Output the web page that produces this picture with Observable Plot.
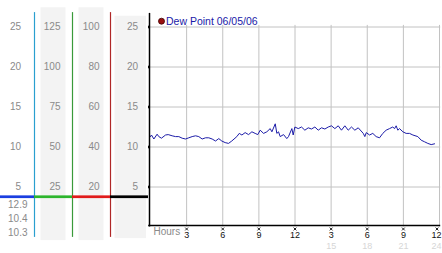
<!DOCTYPE html>
<html><head><meta charset="utf-8">
<script src="https://cdn.jsdelivr.net/npm/d3@7"></script>
<script src="https://cdn.jsdelivr.net/npm/@observablehq/plot@0.6"></script>
<style>
body{margin:0;background:#fff;}
#chart{display:flex;width:442px;height:253px;overflow:hidden;}
#chart svg{display:block;flex:none;}
</style></head><body><div id="chart"></div>
<script>
// ---- data ----
const dewHours = [0.00,0.08,0.28,0.55,0.69,0.91,1.25,1.47,1.80,2.08,2.35,2.63,2.91,3.18,3.46,3.74,4.01,4.29,4.57,4.84,5.12,5.40,5.67,5.92,6.20,6.48,6.75,7.17,7.37,7.59,7.86,8.14,8.42,8.69,8.91,9.11,9.39,9.66,9.94,10.08,10.36,10.49,10.63,10.77,11.05,11.32,11.46,11.74,11.85,11.99,12.27,12.54,12.82,13.10,13.37,13.65,13.93,14.20,14.48,14.76,15.03,15.31,15.59,15.86,16.14,16.42,16.69,16.97,17.25,17.67,17.80,17.92,18.19,18.46,18.74,19.02,19.29,19.57,19.85,20.12,20.27,20.40,20.54,20.68,20.96,21.23,21.51,21.79,22.20,22.48,22.76,23.03,23.31,23.59];
const dewValues = [11.3,11.5,11.0,11.6,11.3,11.1,11.5,11.55,11.4,11.3,11.3,11.1,11.0,11.15,11.3,11.4,11.3,11.0,11.15,11.15,11.0,10.75,11.05,10.75,10.55,10.45,10.75,11.3,11.7,11.5,11.8,11.55,11.9,11.7,11.55,12.1,11.7,11.9,12.3,11.9,12.9,11.7,11.9,11.3,11.55,11.05,11.3,12.3,11.5,12.5,12.3,12.5,12.1,12.4,12.25,12.5,12.1,12.4,12.25,12.5,12.65,12.3,12.65,12.1,12.65,12.1,12.5,12.1,12.4,11.7,11.3,11.8,11.5,11.7,11.3,11.15,11.7,12.1,12.3,12.5,12.3,12.65,12.1,12.3,11.9,11.7,11.7,11.5,11.3,10.85,10.65,10.45,10.3,10.4];
const gridValues = [25, 20, 15, 10, 5];
const col1Labels = ["25", "20", "15", "10", "5"];
const col2Labels = ["125", "100", "75", "50", "25"];
const col3Labels = ["100", "80", "60", "40", "20"];
const col4Labels = ["25", "20", "15", "10", "5"];
const statLabels = ["12.9", "10.4", "10.3"];
const hourTicks = [3, 6, 9, 12, 15, 18, 21, 24];
const hourLabels = ["3", "6", "9", "12", "3", "6", "9", "12"];
const pmTicks = [15, 18, 21, 24];
const pmLabels = ["15", "18", "21", "24"];
const legendLabel = "Dew Point 06/05/06";
const axisTitle = "Hours";

// ---- layout ----
const FONT = "'Liberation Sans', Arial, sans-serif";
const H = 253, MT = 26.5, MB = 26.5;
const yDomain = [0, 25];
const columns = ["c1", "c2", "c3", "c4"];
const colLabelSets = [col1Labels, col2Labels, col3Labels, col4Labels];
const colLabelDx = [5.5, 7, 8, 8.5];
const baseY = 3.72;
const colLineColors = ["#2a9fcf", "#3a9a3a", "#b02828"];
const baseColors = ["#1a3ee0", "#2db52d", "#e01b1b", "#000000"];

const dew = dewHours.map((h, i) => ({hour: h, dew: dewValues[i]}));
const lastIdx = hourTicks.length - 1;
const lastPm = pmTicks.length - 1;

const left = Plot.plot({
  width: 148, height: H,
  marginLeft: 0, marginRight: 0, marginTop: MT, marginBottom: MB,
  x: {type: "band", domain: columns, range: [-4, 148], padding: 0, axis: null},
  y: {domain: yDomain, axis: null},
  color: {type: "identity"},
  style: {fontFamily: FONT, fontSize: "10px", background: "#fff"},
  marks: [
    Plot.barY(["c2", "c3"], {x: d => d, y1: -1.7, y2: 27.4, fill: "#f3f3f3", insetLeft: 6.5, insetRight: 6.5}),
    Plot.barY(["c4"], {x: d => d, y1: -1.45, y2: 26.35, fill: "#f3f3f3", insetLeft: 4.5, insetRight: 2}),
    ...columns.map((c, ci) => Plot.text(gridValues, {
      x: () => c, y: d => d, text: (d, i) => colLabelSets[ci][i],
      textAnchor: "end", dx: colLabelDx[ci], fill: "#8a8a8a", fontSize: 10
    })),
    Plot.ruleX(columns.slice(0, 3), {x: d => d, dx: 19, y1: -1.3, y2: 26.8,
      stroke: (d, i) => colLineColors[i], strokeWidth: 1.2}),
    Plot.barY(columns, {x: d => d, y1: baseY - 0.17, y2: baseY + 0.17,
      fill: (d, i) => baseColors[i]}),
    ...statLabels.map((s, i) => Plot.text([s], {
      x: () => "c1", y: () => baseY, text: d => d, textAnchor: "end",
      dx: 12, dy: 8 + 13.6 * i, fill: "#8a8a8a", fontSize: 10
    }))
  ]
});

const main = Plot.plot({
  width: 294, height: H,
  marginLeft: 2, marginRight: 3, marginTop: MT, marginBottom: MB,
  x: {domain: [0, 24], axis: null},
  y: {domain: yDomain, axis: null},
  style: {fontFamily: FONT, fontSize: "10px", background: "#fff"},
  marks: [
    Plot.ruleY(gridValues, {x1: 0, x2: 24.1, stroke: "#c2c2c2"}),
    Plot.ruleX(hourTicks, {y1: 0, y2: 25.2, stroke: "#c2c2c2"}),
    Plot.line(dew, {x: "hour", y: "dew", stroke: "#1c1ca8", strokeWidth: 1}),
    Plot.ruleX([0], {y1: 0, y2: 26.7, stroke: "#000", strokeWidth: 1.5, dx: -1}),
    Plot.ruleY([0], {x1: -0.15, x2: 24.1, stroke: "#000", strokeWidth: 1.5, dy: -1.5}),
    Plot.dot(gridValues, {x: 0, y: d => d, symbol: "times", r: 1.6, stroke: "#000", strokeWidth: 1.1, dx: -2.5}),
    Plot.dot([legendLabel], {frameAnchor: "top-left", dx: 11, dy: -5.8, r: 3, fill: "#9a1010", stroke: "#400000", strokeWidth: 0.8}),
    Plot.text([legendLabel], {frameAnchor: "top-left", text: d => d, dx: 15.5, dy: -5.8,
      textAnchor: "start", lineAnchor: "middle", fill: "#1a1aa8", fontSize: 10.5}),
    Plot.dot(hourTicks.slice(0, lastIdx), {x: d => d, frameAnchor: "bottom", dy: 2, symbol: "times", r: 1.4, stroke: "#222", strokeWidth: 1}),
    Plot.dot(hourTicks.slice(lastIdx), {x: d => d, frameAnchor: "bottom", dx: -2.5, dy: 2, symbol: "times", r: 1.4, stroke: "#222", strokeWidth: 1}),
    Plot.text(hourTicks.slice(0, lastIdx), {x: d => d, frameAnchor: "bottom", text: (d, i) => hourLabels[i],
      lineAnchor: "middle", dy: 8.5, fill: "#111", fontSize: 9}),
    Plot.text(hourTicks.slice(lastIdx), {x: d => d, frameAnchor: "bottom", text: () => hourLabels[lastIdx],
      textAnchor: "end", lineAnchor: "middle", dx: 2, dy: 8.5, fill: "#111", fontSize: 9}),
    Plot.text(pmTicks.slice(0, lastPm), {x: d => d, frameAnchor: "bottom", text: (d, i) => pmLabels[i],
      lineAnchor: "middle", dy: 19, fill: "#d6d6d6", fontSize: 9}),
    Plot.text(pmTicks.slice(lastPm), {x: d => d, frameAnchor: "bottom", text: () => pmLabels[lastPm],
      textAnchor: "end", lineAnchor: "middle", dx: 2, dy: 19, fill: "#d6d6d6", fontSize: 9}),
    Plot.text([axisTitle], {frameAnchor: "bottom-left", text: d => d, dx: 3, dy: 5,
      textAnchor: "start", lineAnchor: "middle", fill: "#8a8a8a", fontSize: 10})
  ]
});

document.getElementById("chart").append(left, main);
</script>
</body></html>
